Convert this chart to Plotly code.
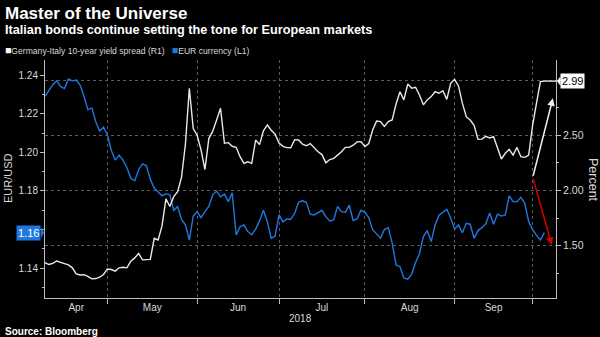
import pandas as pd
import plotly.graph_objects as go

# ---------------- data ----------------
dates = pd.bdate_range("2018-04-09", periods=129)

eur_usd = [
    1.229, 1.232, 1.235, 1.237, 1.234, 1.233, 1.238, 1.237, 1.2374, 1.2348,
    1.229, 1.222, 1.223, 1.216, 1.211, 1.213, 1.209, 1.201, 1.196, 1.1986,
    1.196, 1.192, 1.1866, 1.1853, 1.191, 1.194, 1.193, 1.186, 1.1815, 1.1795,
    1.1775, 1.1785, 1.178, 1.170, 1.1719, 1.1653, 1.1625, 1.1546, 1.167, 1.1693,
    1.1662, 1.1693, 1.172, 1.178, 1.180, 1.177, 1.1784, 1.1745, 1.179, 1.1572,
    1.1615, 1.1624, 1.159, 1.1573, 1.1603, 1.1645, 1.170, 1.1641, 1.1555, 1.1567,
    1.1678, 1.164, 1.1655, 1.1653, 1.1684, 1.1742, 1.175, 1.174, 1.168, 1.1676,
    1.1686, 1.170, 1.1667, 1.1645, 1.165, 1.172, 1.1693, 1.169, 1.1727, 1.1647,
    1.1655, 1.170, 1.169, 1.1662, 1.160, 1.1575, 1.1556, 1.160, 1.161, 1.153,
    1.1417, 1.1408, 1.135, 1.1343, 1.137, 1.143, 1.1475, 1.1564, 1.1595, 1.1538,
    1.1624, 1.1675, 1.169, 1.1705, 1.166, 1.1602, 1.1624, 1.1584, 1.1633, 1.1628,
    1.1555, 1.1595, 1.161, 1.163, 1.1686, 1.1628, 1.168, 1.167, 1.1676, 1.1775,
    1.1745, 1.1745, 1.1767, 1.1736, 1.1641, 1.160, 1.157, 1.1546, 1.1584,
]

spread = [
    1.347, 1.33, 1.34, 1.362, 1.35, 1.34, 1.326, 1.30, 1.245, 1.235,
    1.238, 1.222, 1.20, 1.203, 1.215, 1.24, 1.29, 1.285, 1.27, 1.30,
    1.305, 1.30, 1.36, 1.39, 1.43, 1.372, 1.377, 1.377, 1.567, 1.552,
    1.68, 1.925, 1.855, 1.944, 1.99, 2.12, 2.42, 2.925, 2.56, 2.50,
    2.367, 2.19, 2.47, 2.537, 2.638, 2.744, 2.427, 2.433, 2.40, 2.391,
    2.306, 2.245, 2.26, 2.246, 2.457, 2.415, 2.54, 2.593, 2.545, 2.51,
    2.43, 2.40, 2.388, 2.387, 2.46, 2.457, 2.42, 2.405, 2.425, 2.39,
    2.35, 2.325, 2.25, 2.28, 2.29, 2.32, 2.35, 2.39, 2.39, 2.41,
    2.44, 2.442, 2.398, 2.425, 2.548, 2.628, 2.623, 2.58, 2.623, 2.638,
    2.783, 2.894, 2.82, 2.964, 2.925, 2.934, 2.864, 2.775, 2.82, 2.85,
    2.894, 2.88, 2.903, 2.825, 2.97, 3.006, 2.946, 2.79, 2.668, 2.638,
    2.59, 2.463, 2.465, 2.49, 2.475, 2.487, 2.38, 2.285, 2.337, 2.373,
    2.321, 2.39, 2.306, 2.30, 2.32, 2.59, 2.79, 2.985, 2.99,
]

month_labels = ["Apr", "May", "Jun", "Jul", "Aug", "Sep"]
month_starts = ["2018-05-01", "2018-06-01", "2018-07-02", "2018-08-01", "2018-09-03", "2018-10-01"]
left_ticks = [1.14, 1.16, 1.18, 1.20, 1.22, 1.24]
right_ticks = [1.5, 2.0, 2.5, 3.0]

# ---------------- positions (business-day index) ----------------
idx = list(range(len(dates)))
date_pos = {d.strftime("%Y-%m-%d"): i for i, d in enumerate(dates)}
bound_pos = [date_pos[m] for m in month_starts]
seg_edges = [0] + bound_pos
label_pos = [(seg_edges[i] + seg_edges[i + 1]) / 2 for i in range(len(month_labels))]

BLUE = "#1f78e0"
WHITE = "#e8e8e8"
GRID = "#5a5a5a"
AX = "#bdbdbd"
TXT = "#d8d8d8"
FONT = "Liberation Sans, Arial, sans-serif"

fig = go.Figure()
fig.add_trace(go.Scatter(x=idx, y=eur_usd, mode="lines", yaxis="y",
                         line=dict(color=BLUE, width=1.4), showlegend=False,
                         hoverinfo="skip"))
fig.add_trace(go.Scatter(x=idx, y=spread, mode="lines", yaxis="y2",
                         line=dict(color=WHITE, width=1.4), showlegend=False,
                         hoverinfo="skip"))

X_MAX = 131
fig.update_layout(
    width=600, height=337,
    margin=dict(l=45, r=44, t=60, b=39),
    paper_bgcolor="black", plot_bgcolor="black",
    font=dict(family=FONT, color=TXT, size=10),
    xaxis=dict(
        range=[0, X_MAX], showgrid=False, zeroline=False,
        tickmode="array", tickvals=label_pos, ticktext=month_labels,
        ticks="", tickfont=dict(size=10, color=TXT),
        showline=True, linecolor=AX, linewidth=1,
        minor=dict(tickmode="array", tickvals=bound_pos, showgrid=True,
                   gridcolor=GRID, griddash="dot", gridwidth=1,
                   ticks="outside", ticklen=5, tickcolor=AX),
    ),
    yaxis=dict(
        range=[1.1246, 1.2478], showgrid=False, zeroline=False,
        tickmode="array", tickvals=left_ticks,
        ticktext=["1.14", "", "1.18", "1.20", "1.22", "1.24"],
        ticks="outside", ticklen=4, tickcolor=AX,
        tickfont=dict(size=10, color=TXT),
        showline=True, linecolor=AX, linewidth=1,
        minor=dict(dtick=0.01, tick0=1.14, ticks="outside", ticklen=2, tickcolor=AX),
    ),
    yaxis2=dict(
        range=[1.027, 3.181], overlaying="y", side="right",
        showgrid=True, gridcolor=GRID, griddash="dot", gridwidth=1,
        zeroline=False, tickmode="array", tickvals=right_ticks,
        ticktext=["1.50", "2.00", "2.50", ""],
        ticks="outside", ticklen=4, tickcolor=AX,
        tickfont=dict(size=10.5, color=TXT),
        showline=True, linecolor=AX, linewidth=1,
        minor=dict(dtick=0.25, tick0=1.0, ticks="outside", ticklen=2, tickcolor=AX),
    ),
)

def py(ypx):
    return (298 - ypx) / 238.0

def px(xpx):
    return (xpx - 45) / 511.0

ann = []
ann.append(dict(text="<b>Master of the Universe</b>", xref="paper", yref="paper",
                x=px(3), y=py(13), xanchor="left", yanchor="middle", showarrow=False,
                font=dict(size=17, color="white", family=FONT)))
ann.append(dict(text="<b>Italian bonds continue setting the tone for European markets</b>",
                xref="paper", yref="paper", x=px(3), y=py(30), xanchor="left",
                yanchor="middle", showarrow=False,
                font=dict(size=12.7, color="white", family=FONT)))
ann.append(dict(text='<span style="color:#ffffff;font-size:10.5px">■</span>Germany-Italy 10-year yield spread (R1)'
                     '&nbsp;&nbsp;&nbsp;<span style="color:' + BLUE + ';font-size:10.5px">■</span>EUR currency (L1)',
                xref="paper", yref="paper", x=px(3), y=py(50), xanchor="left",
                yanchor="middle", showarrow=False,
                font=dict(size=8.6, color=TXT, family=FONT)))
ann.append(dict(text="2018", xref="paper", yref="paper", x=px(300), y=py(318),
                xanchor="center", yanchor="middle", showarrow=False,
                font=dict(size=10, color=TXT, family=FONT)))
ann.append(dict(text="<b>Source: Bloomberg</b>", xref="paper", yref="paper",
                x=px(3), y=py(331.5), xanchor="left", yanchor="middle", showarrow=False,
                font=dict(size=10, color="white", family=FONT)))
ann.append(dict(text="EUR/USD", xref="paper", yref="paper", x=px(8), y=py(178),
                xanchor="center", yanchor="middle", showarrow=False, textangle=-90,
                font=dict(size=11, color=TXT, family=FONT)))
ann.append(dict(text="Percent", xref="paper", yref="paper", x=px(593), y=py(180),
                xanchor="center", yanchor="middle", showarrow=False, textangle=90,
                font=dict(size=12.5, color=TXT, family=FONT)))
# current value labels
ann.append(dict(text="1.16", xref="paper", yref="y", x=px(41), y=eur_usd[-1],
                xanchor="right", yanchor="middle", showarrow=False,
                bgcolor=BLUE, borderpad=1,
                font=dict(size=11, color="white", family=FONT)))
ann.append(dict(text="2.99", xref="paper", yref="y2", x=px(560), y=spread[-1],
                xanchor="left", yanchor="middle", showarrow=False,
                bgcolor="white", borderpad=1,
                font=dict(size=11, color="black", family=FONT)))
# drawn arrows
ann.append(dict(text="", xref="x", yref="y2", x=130.2, y=2.834,
                axref="x", ayref="y2", ax=125.05, ay=2.12,
                showarrow=True, arrowhead=2, arrowsize=1, arrowwidth=1.5,
                arrowcolor="#f0f0f0"))
ann.append(dict(text="", xref="x", yref="y2", x=129.9, y=1.507,
                axref="x", ayref="y2", ax=125.05, ay=2.12,
                showarrow=True, arrowhead=2, arrowsize=1, arrowwidth=1.5,
                arrowcolor="#d40000"))
fig.update_layout(annotations=ann)

# leader line from last spread point to label
fig.add_shape(type="line", xref="x", yref="y2", x0=idx[-1], x1=X_MAX,
              y0=spread[-1], y1=spread[-1], line=dict(color=WHITE, width=1.4))
# notches on labels
fig.add_shape(type="path", xref="paper", yref="y",
              path=f"M {px(41)} {eur_usd[-1] + 0.0028} L {px(44)} {eur_usd[-1]} L {px(41)} {eur_usd[-1] - 0.0028} Z",
              fillcolor=BLUE, line=dict(width=0))
fig.add_shape(type="path", xref="paper", yref="y2",
              path=f"M {px(560.5)} {spread[-1] + 0.045} L {px(557)} {spread[-1]} L {px(560.5)} {spread[-1] - 0.045} Z",
              fillcolor="white", line=dict(width=0))

fig.write_html("out.html")
